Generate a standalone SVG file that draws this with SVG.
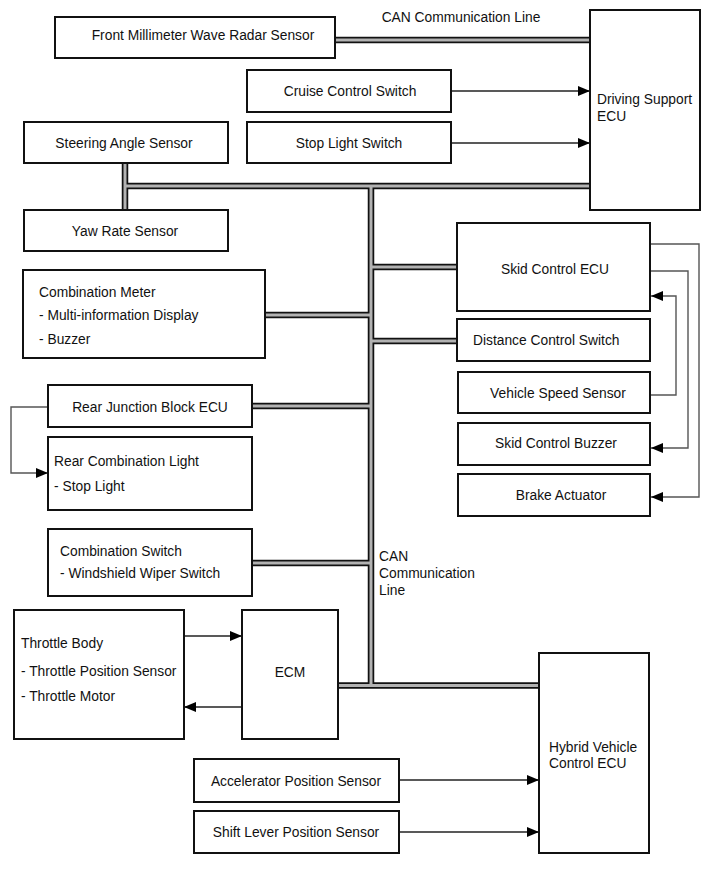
<svg xmlns="http://www.w3.org/2000/svg" xmlns:xlink="http://www.w3.org/1999/xlink" width="713" height="882" viewBox="0 0 713 882">
<style>
.box{fill:#fff;stroke:#111;stroke-width:2}
text{font-family:"Liberation Sans",Arial,sans-serif;font-size:13.8px;fill:#111}
.c{text-anchor:middle}
.outer{fill:none;stroke:#111;stroke-width:6.5}
.inner{fill:none;stroke:#b2b2b2;stroke-width:3}
.arr{fill:none;stroke:#222;stroke-width:1.3;marker-end:url(#ah)}
.sig{fill:none;stroke:#555;stroke-width:1.4;marker-end:url(#ah)}
</style>
<defs>
<marker id="ah" markerUnits="userSpaceOnUse" markerWidth="13" markerHeight="11" refX="12" refY="5" orient="auto">
<path d="M0,0 L12,5 L0,10 z" fill="#000"/>
</marker>
<path id="bus" d="M335,40 H590 M125,163 V210 M125,186 H590 M371,186 V685.5 M338,685.5 H539 M265,315 H371 M252,406 H371 M252,563 H371 M371,267 H457 M371,341 H457"/>
</defs>
<rect width="713" height="882" fill="#fff"/>
<g id="connectors">
<use xlink:href="#bus" class="outer"/>
<use xlink:href="#bus" class="inner"/>
<path class="arr" d="M451,91 H590"/>
<path class="arr" d="M451,143 H590"/>
<path class="arr" d="M184,636 H242"/>
<path class="arr" d="M242,707 H184"/>
<path class="arr" d="M399,780 H539"/>
<path class="arr" d="M399,832 H539"/>
<path class="sig" d="M48,407 H11 V473 H48"/>
<path class="sig" d="M650,244 H699 V497 H651"/>
<path class="sig" d="M650,271 H688 V448 H651"/>
<path class="sig" d="M650,395 H676 V296 H651"/>
</g>
<text x="461" y="22" class="c">CAN Communication Line</text>
<text x="379" y="561">CAN</text>
<text x="379" y="578">Communication</text>
<text x="379" y="595">Line</text>
<g id="radar"><rect class="box" x="55" y="17" width="280" height="41"/><text x="203" y="40" class="c">Front Millimeter Wave Radar Sensor</text></g>
<g id="driving-support-ecu"><rect class="box" x="590" y="10" width="110" height="200"/><text x="597" y="104">Driving Support</text><text x="597" y="121">ECU</text></g>
<g id="cruise"><rect class="box" x="247" y="70" width="204" height="42"/><text x="350" y="96" class="c">Cruise Control Switch</text></g>
<g id="stop-light-switch"><rect class="box" x="247" y="122" width="204" height="41"/><text x="349" y="148" class="c">Stop Light Switch</text></g>
<g id="steering"><rect class="box" x="24" y="122" width="204" height="41"/><text x="124" y="148" class="c">Steering Angle Sensor</text></g>
<g id="yaw"><rect class="box" x="24" y="210" width="204" height="41"/><text x="125" y="236" class="c">Yaw Rate Sensor</text></g>
<g id="combination-meter"><rect class="box" x="23" y="270" width="242" height="88"/><text x="39" y="297">Combination Meter</text><text x="39" y="320">- Multi-information Display</text><text x="39" y="344">- Buzzer</text></g>
<g id="rear-junction"><rect class="box" x="48" y="385" width="204" height="42"/><text x="150" y="412" class="c">Rear Junction Block ECU</text></g>
<g id="rear-combination-light"><rect class="box" x="48" y="437" width="204" height="73"/><text x="54" y="466">Rear Combination Light</text><text x="54" y="491">- Stop Light</text></g>
<g id="combination-switch"><rect class="box" x="48" y="529" width="204" height="67"/><text x="60" y="556">Combination Switch</text><text x="60" y="578">- Windshield Wiper Switch</text></g>
<g id="throttle-body"><rect class="box" x="14" y="610" width="170" height="129"/><text x="21" y="648">Throttle Body</text><text x="21" y="676">- Throttle Position Sensor</text><text x="21" y="701">- Throttle Motor</text></g>
<g id="ecm"><rect class="box" x="242" y="610" width="96" height="129"/><text x="290" y="677" class="c">ECM</text></g>
<g id="skid-ecu"><rect class="box" x="457" y="223" width="193" height="88"/><text x="555" y="274" class="c">Skid Control ECU</text></g>
<g id="distance-switch"><rect class="box" x="457" y="319" width="193" height="42"/><text x="473" y="345">Distance Control Switch</text></g>
<g id="vehicle-speed"><rect class="box" x="458" y="372" width="192" height="41"/><text x="558" y="398" class="c">Vehicle Speed Sensor</text></g>
<g id="skid-buzzer"><rect class="box" x="458" y="423" width="192" height="42"/><text x="556" y="448" class="c">Skid Control Buzzer</text></g>
<g id="brake-actuator"><rect class="box" x="458" y="474" width="192" height="42"/><text x="561" y="500" class="c">Brake Actuator</text></g>
<g id="accelerator"><rect class="box" x="194" y="759" width="205" height="43"/><text x="296" y="786" class="c">Accelerator Position Sensor</text></g>
<g id="shift-lever"><rect class="box" x="194" y="811" width="205" height="42"/><text x="296" y="837" class="c">Shift Lever Position Sensor</text></g>
<g id="hybrid-ecu"><rect class="box" x="539" y="653" width="110" height="200"/><text x="549" y="752">Hybrid Vehicle</text><text x="549" y="768">Control ECU</text></g>
</svg>
